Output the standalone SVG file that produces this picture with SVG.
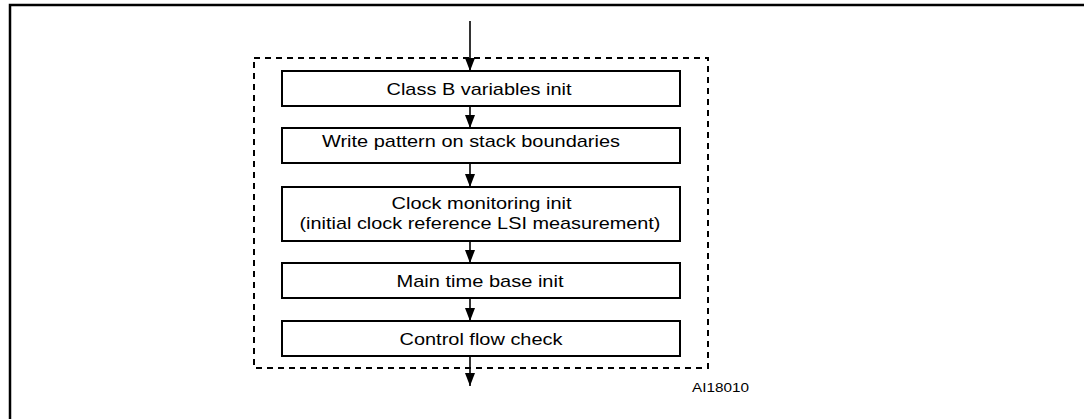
<svg xmlns="http://www.w3.org/2000/svg" width="1084" height="419" viewBox="0 0 1084 419">
<defs>
<marker id="ah" viewBox="0 0 13 10" refX="13" refY="5" markerWidth="13" markerHeight="10" markerUnits="userSpaceOnUse" orient="auto">
<path d="M0,0 L13,5 L0,10 Z" fill="#000"/>
</marker>
</defs>
<style>
.box{fill:#fff;stroke:#000;stroke-width:2}
.t{font-family:"Liberation Sans",Arial,sans-serif;font-size:17px;fill:#000;text-anchor:middle}
.c{stroke:#000;stroke-width:1.6;fill:none;marker-end:url(#ah)}
</style>
<rect width="1084" height="419" fill="#fff"/>
<path d="M10,420 V5 H1085" fill="none" stroke="#000" stroke-width="2.5"/>
<rect id="group-box" x="254" y="58" width="454" height="310" fill="none" stroke="#000" stroke-width="2" stroke-dasharray="6,5"/>
<g id="connectors">
<line class="c" x1="470" y1="21" x2="470" y2="71"/>
<line class="c" x1="470" y1="106" x2="470" y2="128"/>
<line class="c" x1="470" y1="163" x2="470" y2="187"/>
<line class="c" x1="470" y1="241" x2="470" y2="263"/>
<line class="c" x1="470" y1="298" x2="470" y2="321"/>
<line class="c" x1="470" y1="356" x2="470" y2="386"/>
</g>
<g id="n1"><rect class="box" x="282" y="71" width="398" height="35"/><text class="t" x="479" y="94.5" textLength="185" lengthAdjust="spacingAndGlyphs">Class B variables init</text></g>
<g id="n2"><rect class="box" x="282" y="128" width="398" height="35"/><text class="t" x="471" y="147" textLength="298" lengthAdjust="spacingAndGlyphs">Write pattern on stack boundaries</text></g>
<g id="n3"><rect class="box" x="282" y="187" width="398" height="54"/><text class="t" x="481.5" y="209" textLength="180" lengthAdjust="spacingAndGlyphs">Clock monitoring init</text><text class="t" x="480" y="229" textLength="361" lengthAdjust="spacingAndGlyphs">(initial clock reference LSI measurement)</text></g>
<g id="n4"><rect class="box" x="282" y="263" width="398" height="35"/><text class="t" x="480" y="286.5" textLength="167" lengthAdjust="spacingAndGlyphs">Main time base init</text></g>
<g id="n5"><rect class="box" x="282" y="321" width="398" height="35"/><text class="t" x="481" y="344.5" textLength="163" lengthAdjust="spacingAndGlyphs">Control flow check</text></g>
<text x="692" y="392" font-family="'Liberation Sans',Arial,sans-serif" font-size="13" textLength="57" lengthAdjust="spacingAndGlyphs">AI18010</text>
</svg>
